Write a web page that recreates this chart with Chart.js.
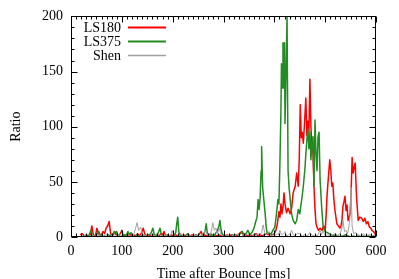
<!DOCTYPE html>
<html lang="en">
<head>
<meta charset="UTF-8">
<title>Ratio vs Time after Bounce</title>
<script src="https://cdn.jsdelivr.net/npm/chart.js"></script>
<style>
  html, body { margin: 0; padding: 0; background: #fff; }
</style>
</head>
<body>
<canvas id="ratio-chart" width="399" height="279"></canvas>
<script>
  // LS180 (red)
  const ls180Time = [
    18, 22, 26, 30, 34, 38, 41, 44, 48, 51,
    54, 58, 61, 63, 66, 69, 72, 75, 78, 82,
    86, 90, 94, 97, 100, 103, 107, 111, 115, 119,
    123, 127, 131, 135, 139, 142, 145, 149, 153, 157,
    161, 165, 169, 173, 177, 180, 183, 186, 190, 194,
    198, 202, 206, 210, 214, 218, 222, 226, 230, 234,
    238, 242, 246, 250, 253, 256, 259, 263, 267, 271,
    275, 279, 283, 287, 291, 295, 299, 303, 307, 311,
    315, 319, 323, 327, 331, 336, 340, 344, 348, 352,
    356, 360, 364, 368, 372, 376, 380, 384, 388, 392,
    396, 400, 403, 406, 409, 411, 413, 415, 417, 419,
    421, 424, 427, 431, 434, 437, 441, 444, 447, 449,
    451, 453, 455, 457, 459, 462, 464, 466, 468, 470,
    472, 474, 476, 478, 480, 482, 484, 487, 490, 494,
    497, 500, 502, 504, 506, 509, 511, 513, 515, 517,
    519, 523, 526, 529, 531, 533, 535, 537, 539, 541,
    543, 545, 547, 549, 551, 553, 555, 557, 559, 562,
    565, 568, 572, 575, 578, 581, 584, 587, 590, 592,
    595, 598, 600
  ];
  const ls180Ratio = [
    2, 3, 1, 2, 1, 2, 10, 2, 1, 8,
    3, 1, 3, 5, 3, 8, 10, 14, 3, 1,
    5, 2, 1, 3, 6, 1, 2, 1, 3, 1,
    2, 1, 3, 1, 4, 8, 3, 1, 2, 1,
    2, 1, 2, 1, 3, 2, 5, 1, 2, 1,
    2, 1, 2, 1, 3, 1, 2, 1, 2, 1,
    2, 1, 2, 1, 3, 5, 1, 2, 1, 2,
    3, 1, 2, 1, 2, 1, 2, 1, 2, 1,
    2, 1, 2, 1, 3, 5, 1, 2, 1, 2,
    1, 2, 3, 1, 2, 1, 2, 3, 2, 3,
    2, 3, 6, 12, 23, 18, 30, 21, 27, 40,
    30, 22, 26, 21, 26, 40, 46, 58, 46, 70,
    120, 90, 95, 85, 100, 126, 92, 105, 95, 143,
    100, 80, 76, 46, 25, 12, 9, 6, 8, 6,
    10, 6, 21, 40, 52, 70, 61, 46, 49, 35,
    25, 12, 10, 8, 10, 15, 28, 32, 37, 24,
    29, 15, 18, 21, 40, 72, 58, 63, 67, 34,
    15, 18, 17, 14, 17, 12, 14, 9, 8, 6,
    5, 3, 2
  ];

  // LS375 (green)
  const ls375Time = [
    20, 24, 28, 32, 36, 39, 42, 46, 50, 55,
    58, 62, 66, 70, 74, 78, 82, 85, 88, 90,
    93, 97, 101, 105, 108, 112, 115, 118, 121, 125,
    129, 133, 137, 141, 145, 149, 153, 157, 161, 164,
    168, 171, 175, 178, 182, 186, 190, 194, 198, 202,
    206, 208, 210, 212, 215, 219, 223, 227, 230, 233,
    237, 241, 245, 249, 253, 257, 261, 264, 266, 268,
    272, 276, 280, 284, 288, 291, 293, 295, 298, 302,
    306, 310, 314, 318, 322, 326, 330, 334, 337, 340,
    344, 348, 352, 356, 360, 364, 366, 368, 370, 372,
    374, 375, 377, 379, 382, 384, 386, 390, 393, 397,
    401, 404, 407, 409, 411, 413, 414, 416, 417, 418,
    420, 421, 423, 425, 427, 429, 431, 434, 437, 441,
    444, 447, 450, 452, 454, 457, 460, 462, 464, 466,
    468, 470, 472, 474, 476, 478, 480, 482, 484, 486,
    488, 490, 493, 496, 500, 504, 508, 512, 516, 520,
    525, 530, 535, 540, 545, 550, 555, 560, 565, 570,
    575, 580, 585, 590, 595, 600
  ];
  const ls375Ratio = [
    1, 0, 1, 0, 2, 6, 1, 0, 2, 5,
    1, 0, 1, 0, 2, 1, 2, 5, 2, 5,
    1, 0, 1, 2, 1, 5, 2, 4, 1, 0,
    2, 1, 0, 2, 1, 0, 2, 3, 8, 2,
    1, 3, 8, 2, 1, 0, 2, 1, 0, 1,
    4, 12, 18, 5, 1, 0, 1, 2, 3, 1,
    0, 1, 2, 1, 0, 1, 2, 6, 12, 4,
    1, 2, 1, 3, 6, 10, 15, 7, 2, 1,
    0, 1, 0, 2, 1, 0, 2, 3, 5, 2,
    3, 6, 2, 4, 8, 15, 18, 34, 25, 35,
    60, 82, 45, 35, 21, 9, 3, 4, 2, 6,
    9, 20, 34, 30, 67, 115, 157, 135, 176, 135,
    176, 103, 150, 200, 60, 45, 35, 21, 15, 12,
    15, 25, 21, 28, 34, 46, 61, 75, 88, 98,
    80, 95, 70, 85, 91, 46, 106, 76, 60, 91,
    95, 52, 28, 9, 5, 4, 3, 2, 1, 2,
    1, 0, 1, 2, 1, 0, 1, 0, 1, 0,
    1, 0, 1, 0, 1, 0
  ];

  // Shen (grey)
  const shenTime = [
    25, 29, 33, 37, 41, 45, 49, 53, 57, 61,
    65, 69, 73, 77, 81, 85, 89, 93, 97, 101,
    105, 109, 113, 117, 121, 124, 127, 130, 133, 137,
    140, 144, 148, 152, 156, 160, 164, 168, 172, 176,
    180, 184, 188, 192, 196, 199, 202, 206, 210, 214,
    217, 220, 224, 228, 232, 236, 240, 244, 248, 252,
    256, 260, 264, 268, 272, 276, 279, 282, 285, 288,
    292, 295, 299, 303, 307, 311, 315, 319, 323, 327,
    331, 335, 339, 343, 347, 351, 355, 359, 363, 367,
    371, 375, 378, 381, 385, 389, 393, 397, 401, 405,
    408, 411, 414, 418, 421, 424, 428, 431, 434, 437,
    441, 445, 450, 455, 460, 465, 470, 475, 480, 485,
    490, 493, 496, 500, 505, 510, 515, 520, 525, 530,
    533, 535, 538, 541, 544, 547, 549, 551, 553, 556,
    560, 565, 570, 575, 580, 585, 590, 595, 600
  ];
  const shenRatio = [
    1, 2, 0, 1, 2, 1, 0, 2, 1, 0,
    1, 2, 1, 0, 2, 1, 0, 1, 2, 1,
    0, 1, 2, 1, 0, 3, 8, 13, 6, 9,
    3, 1, 2, 1, 0, 2, 1, 3, 1, 0,
    1, 2, 1, 0, 2, 6, 1, 0, 1, 2,
    3, 1, 0, 1, 2, 1, 0, 2, 1, 0,
    1, 2, 6, 2, 1, 5, 13, 6, 8, 3,
    8, 2, 1, 0, 2, 1, 0, 2, 1, 3,
    1, 0, 2, 1, 3, 1, 0, 2, 1, 3,
    2, 4, 11, 4, 2, 5, 1, 2, 1, 3,
    2, 6, 2, 3, 5, 1, 2, 3, 6, 2,
    1, 3, 3, 1, 2, 1, 4, 1, 2, 1,
    6, 2, 6, 1, 2, 1, 2, 3, 1, 4,
    8, 15, 5, 6, 3, 10, 20, 45, 10, 3,
    4, 2, 1, 3, 1, 2, 2, 1, 1
  ];

  const xMin = 0, xMax = 600, xStep = 100, xMinor = 10;
  const yMin = 0, yMax = 200, yStep = 50, yMinor = 10;

  const serif = 'Liberation Serif, Times New Roman, serif';

  function toPoints(t, v) {
    return t.map((x, i) => ({ x: x, y: v[i] }));
  }

  // frame with inward ticks on all 4 sides, plus gnuplot style key
  const frameAndKey = {
    id: 'frameAndKey',
    afterDatasetsDraw(chart) {
      const { ctx, chartArea: a, scales } = chart;
      const xs = scales.x, ys = scales.y;
      ctx.save();
      ctx.strokeStyle = '#000';
      ctx.lineWidth = 1;
      const L = Math.round(a.left) + 0.5, R = Math.round(a.right) - 0.5;
      const T = Math.round(a.top) + 0.5, B = Math.round(a.bottom) - 0.5;
      ctx.strokeRect(L, T, R - L, B - T);

      ctx.beginPath();
      for (let v = xMin; v <= xMax; v += xMinor) {
        const px = Math.round(xs.getPixelForValue(v)) + 0.5;
        const len = v % xStep === 0 ? 6 : 3;
        ctx.moveTo(px, B); ctx.lineTo(px, B - len);
        ctx.moveTo(px, T); ctx.lineTo(px, T + len);
      }
      for (let v = yMin; v <= yMax; v += yMinor) {
        const py = Math.round(ys.getPixelForValue(v)) + 0.5;
        const len = v % yStep === 0 ? 6 : 3;
        ctx.moveTo(L, py); ctx.lineTo(L + len, py);
        ctx.moveTo(R, py); ctx.lineTo(R - len, py);
      }
      ctx.stroke();

      // key
      ctx.font = '14px ' + serif;
      ctx.textAlign = 'right';
      ctx.textBaseline = 'middle';
      chart.data.datasets.forEach((ds, i) => {
        const ky = 27 + i * 14;
        ctx.fillStyle = '#000';
        ctx.fillText(ds.label, 121, ky + 1);
        ctx.strokeStyle = ds.borderColor;
        ctx.lineWidth = ds.borderWidth + 0.5;
        ctx.beginPath();
        ctx.moveTo(128, ky + 0.5);
        ctx.lineTo(166, ky + 0.5);
        ctx.stroke();
      });
      ctx.restore();
    }
  };

  const ctx = document.getElementById('ratio-chart').getContext('2d');
  new Chart(ctx, {
    type: 'line',
    data: {
      datasets: [
        {
          label: 'LS180',
          data: toPoints(ls180Time, ls180Ratio),
          borderColor: '#ff0000',
          borderWidth: 1.5,
          order: 3
        },
        {
          label: 'LS375',
          data: toPoints(ls375Time, ls375Ratio),
          borderColor: '#228b22',
          borderWidth: 1.5,
          order: 2
        },
        {
          label: 'Shen',
          data: toPoints(shenTime, shenRatio),
          borderColor: '#a0a0a0',
          borderWidth: 1,
          order: 1
        }
      ]
    },
    options: {
      responsive: false,
      animation: false,
      devicePixelRatio: 1,
      layout: { padding: { top: 16, right: 23, left: 0, bottom: 0 } },
      elements: {
        point: { radius: 0 },
        line: { tension: 0, borderJoinStyle: 'round' }
      },
      plugins: {
        legend: { display: false },
        tooltip: { enabled: false }
      },
      scales: {
        x: {
          type: 'linear',
          min: xMin,
          max: xMax,
          grid: { display: false, drawTicks: false },
          border: { display: false },
          ticks: {
            stepSize: xStep,
            color: '#000',
            padding: 6,
            maxRotation: 0,
            font: { family: serif, size: 14 }
          },
          title: {
            display: true,
            text: 'Time after Bounce [ms]',
            color: '#000',
            font: { family: serif, size: 14 },
            padding: { top: 0, bottom: -4 }
          },
          afterFit(scale) { scale.height = 42; }
        },
        y: {
          type: 'linear',
          min: yMin,
          max: yMax,
          grid: { display: false, drawTicks: false },
          border: { display: false },
          ticks: {
            stepSize: yStep,
            color: '#000',
            padding: 8,
            font: { family: serif, size: 14 }
          },
          title: {
            display: true,
            text: 'Ratio',
            color: '#000',
            font: { family: serif, size: 14 },
            padding: { top: 8, bottom: 0 }
          },
          afterFit(scale) { scale.width = 71; }
        }
      }
    },
    plugins: [frameAndKey]
  });
</script>
</body>
</html>
